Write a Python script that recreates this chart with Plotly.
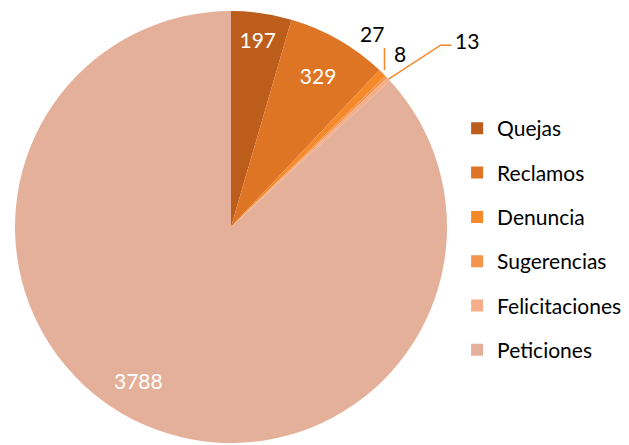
import math
import plotly.graph_objects as go

categories = ["Quejas", "Reclamos", "Denuncia", "Sugerencias", "Felicitaciones", "Peticiones"]
values = [197, 329, 27, 8, 13, 3788]
colors = ["#BC5D1C", "#DE7525", "#F5892A", "#F4954B", "#F5AE88", "#E4B09A"]

W, H = 629, 445
OFF = 8                             # page body margin
CX, CY, R = 231, 227, 216          # pie centre / radius in screen pixels
FONT = "Lato, 'Open Sans', sans-serif"

def px(x):
    return (x - OFF) / W

def py(y):
    return 1 - (y - OFF) / H

total = sum(values)
cum = 0
mid_angles = []
for v in values:
    mid_angles.append(2 * math.pi * (cum + v / 2) / total)
    cum += v

def edge(i, f=1.0):
    a = mid_angles[i]
    return CX + f * R * math.sin(a), CY - f * R * math.cos(a)

def label(x, y, text, color, xanchor="center"):
    return dict(x=px(x), y=py(y), xref="paper", yref="paper", text=text,
                xanchor=xanchor, yanchor="middle", showarrow=False,
                font=dict(family=FONT, size=21, color=color))

text_pos = ["inside", "inside", "none", "none", "none", "none"]

fig = go.Figure()
fig.add_trace(go.Pie(
    labels=categories, values=values, sort=False, direction="clockwise", rotation=0,
    marker=dict(colors=colors, line=dict(width=0)),
    textinfo="value", textposition=text_pos,
    insidetextorientation="horizontal",
    textfont=dict(family=FONT, size=21, color="white"),
    showlegend=False, hoverinfo="label+value",
    domain=dict(x=[px(CX - R), px(CX + R)], y=[py(CY + R), py(CY - R)]),
))
for c, col in zip(categories, colors):
    fig.add_trace(go.Scatter(
        x=[None], y=[None], mode="markers", name=c, legendgroup=c,
        marker=dict(symbol="square", size=13, color=col),
    ))

annotations = []
shapes = []
# big slice label, inside
x, y = edge(5, 0.84)
annotations.append(label(x - 20, y - 13, str(values[5]), "white"))
# Denuncia: vertical leader, label up-left
x, y = edge(2)
shapes.append(dict(type="line", xref="paper", yref="paper", x0=px(x + 2), y0=py(y - 3),
                   x1=px(x + 2), y1=py(y - 25), line=dict(color="#F5892A", width=1.5)))
annotations.append(label(x - 10, y - 40, str(values[2]), "black"))
# Sugerencias: label near edge
x, y = edge(3)
annotations.append(label(x + 14, y - 23, str(values[3]), "black"))
# Felicitaciones: elbow leader to the right
x, y = edge(4)
shapes.append(dict(type="path", xref="paper", yref="paper",
                   path=f"M {px(x)} {py(y)} L {px(x + 52)} {py(y - 34)} L {px(x + 63)} {py(y - 34)}",
                   line=dict(color="#F5892A", width=1.5)))
annotations.append(label(x + 64, y - 39, str(values[4]), "black", xanchor="left"))

fig.update_layout(
    width=W, height=H,
    margin=dict(l=0, r=0, t=0, b=0),
    paper_bgcolor="white", plot_bgcolor="white",
    xaxis=dict(visible=False), yaxis=dict(visible=False),
    legend=dict(x=0.714, y=0.775, xanchor="left", yanchor="top",
                font=dict(family=FONT, size=21, color="#000"),
                tracegroupgap=14, itemsizing="constant", bgcolor="rgba(0,0,0,0)"),
    annotations=annotations, shapes=shapes,
    font=dict(family=FONT),
)
fig.write_html("out.html")
